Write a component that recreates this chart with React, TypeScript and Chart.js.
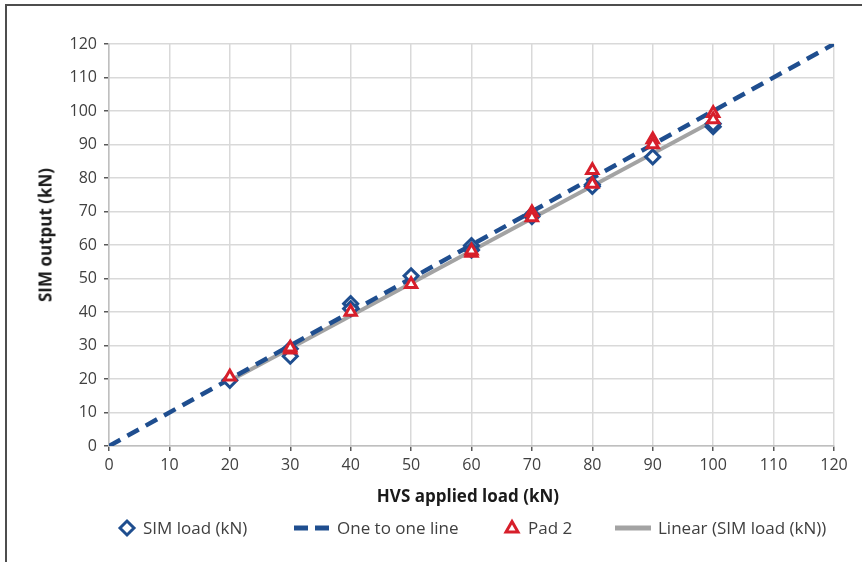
import React, { useEffect, useRef } from 'react';
import { Chart, registerables } from 'chart.js';

Chart.register(...registerables);

// SIM load readings (kN) against the HVS applied load (kN)
const simX = [20, 30, 30, 40, 40, 50, 60, 60, 70, 70, 80, 80, 90, 100, 100];
const simY = [19.6, 29, 26.8, 42.5, 41, 50.8, 59.8, 58.5, 69, 68.5, 78, 77.5, 86.3, 95.3, 96.2];

// Pad 2 readings (kN)
const padX = [20, 30, 30, 40, 50, 60, 60, 70, 70, 80, 80, 90, 90, 100, 100];
const padY = [20.7, 28.7, 29.3, 40, 48.3, 57.6, 58.3, 69.7, 68.2, 82.3, 78.2, 91.5, 90, 99.3, 97.5];

// One to one reference line
const oneX = [0, 120];
const oneY = [0, 120];

// Linear trend of the SIM load
const trendX = [20, 100];
const trendY = [19.5, 97];

const axisMin = 0;
const axisMax = 120;
const axisStep = 10;

const BLUE = '#1f4e8f';
const RED = '#d71f2b';
const GREY = '#a3a3a3';
const TEXT = '#404040';
const FONT = '"Open Sans", "Noto Sans", sans-serif';

const toPoints = (xs: number[], ys: number[]) => xs.map((x, i) => ({ x, y: ys[i] }));

export default function App() {
  const canvasRef = useRef<HTMLCanvasElement | null>(null);

  useEffect(() => {
    const canvas = canvasRef.current;
    if (!canvas) return;
    const tickFont = { family: FONT, size: 16 };
    const scaleCommon = {
      type: 'linear' as const,
      min: axisMin,
      max: axisMax,
      grid: {
        color: '#d9d9d9',
        lineWidth: 1.5,
        tickColor: '#595959',
        tickLength: 5,
        tickWidth: 1.5,
      },
      border: { color: '#bfbfbf', width: 1.5 },
    };
    const chart = new Chart(canvas, {
      type: 'scatter',
      data: {
        datasets: [
          {
            label: 'Pad 2',
            data: toPoints(padX, padY),
            order: 0,
            pointStyle: 'triangle',
            pointRadius: 6.5,
            pointBorderWidth: 3,
            pointBorderColor: RED,
            pointBackgroundColor: '#ffffff',
            showLine: false,
          },
          {
            label: 'SIM load (kN)',
            data: toPoints(simX, simY),
            order: 1,
            pointStyle: 'rectRot',
            pointRadius: 7,
            pointBorderWidth: 3,
            pointBorderColor: BLUE,
            pointBackgroundColor: '#ffffff',
            showLine: false,
          },
          {
            label: 'One to one line',
            data: toPoints(oneX, oneY),
            order: 2,
            showLine: true,
            borderColor: BLUE,
            borderWidth: 4.5,
            borderDash: [13, 8],
            borderCapStyle: 'butt',
            pointRadius: 0,
          },
          {
            label: 'Linear (SIM load (kN))',
            data: toPoints(trendX, trendY),
            order: 3,
            showLine: true,
            borderColor: GREY,
            borderWidth: 4,
            pointRadius: 0,
          },
        ],
      },
      options: {
        responsive: false,
        animation: false,
        events: [],
        layout: { padding: { top: 44, right: 28, left: 0, bottom: 0 } },
        plugins: { legend: { display: false }, tooltip: { enabled: false } },
        scales: {
          x: {
            ...scaleCommon,
            ticks: { stepSize: axisStep, color: TEXT, font: tickFont, padding: 5, maxRotation: 0 },
            afterFit: (s: any) => {
              s.height = 116;
            },
          },
          y: {
            ...scaleCommon,
            ticks: { stepSize: axisStep, color: TEXT, font: tickFont, padding: 7 },
            afterFit: (s: any) => {
              s.width = 109;
            },
          },
        },
      } as any,
    });
    return () => chart.destroy();
  }, []);

  const legendText: React.CSSProperties = {
    position: 'absolute',
    top: 517,
    fontFamily: FONT,
    fontSize: 17,
    lineHeight: '22px',
    color: TEXT,
    whiteSpace: 'nowrap',
  };

  return (
    <div
      style={{
        position: 'fixed',
        left: 0,
        top: 0,
        width: 862,
        height: 562,
        overflow: 'hidden',
        background: '#ffffff',
      }}
    >
      <div
        style={{
          position: 'absolute',
          left: 5,
          top: 4,
          width: 900,
          height: 600,
          borderLeft: '2px solid #4d4d4d',
          borderTop: '2px solid #4d4d4d',
        }}
      />
      <canvas
        ref={canvasRef}
        width={862}
        height={562}
        style={{ position: 'absolute', left: 0, top: 0, width: 862, height: 562 }}
      />
      <div
        style={{
          position: 'absolute',
          left: 45,
          top: 235,
          transform: 'translate(-50%, -50%) rotate(-90deg)',
          fontFamily: FONT,
          fontWeight: 700,
          fontSize: 17,
          color: '#1a1a1a',
          whiteSpace: 'nowrap',
        }}
      >
        SIM output (kN)
      </div>
      <div
        style={{
          position: 'absolute',
          left: 468,
          top: 495,
          transform: 'translate(-50%, -50%)',
          fontFamily: FONT,
          fontWeight: 700,
          fontSize: 17,
          color: '#1a1a1a',
          whiteSpace: 'nowrap',
        }}
      >
        HVS applied load (kN)
      </div>

      {/* legend */}
      <svg
        width={862}
        height={40}
        style={{ position: 'absolute', left: 0, top: 508 }}
      >
        <polygon
          points="120,20 127,13 134,20 127,27"
          fill="#ffffff"
          stroke={BLUE}
          strokeWidth={3}
        />
        <line x1={294} y1={20} x2={308} y2={20} stroke={BLUE} strokeWidth={5} />
        <line x1={315} y1={20} x2={329} y2={20} stroke={BLUE} strokeWidth={5} />
        <polygon
          points="512,13.5 518,24 506,24"
          fill="#ffffff"
          stroke={RED}
          strokeWidth={3}
        />
        <line x1={615} y1={20} x2={651} y2={20} stroke={GREY} strokeWidth={5} />
      </svg>
      <div style={{ ...legendText, left: 143 }}>SIM load (kN)</div>
      <div style={{ ...legendText, left: 337 }}>One to one line</div>
      <div style={{ ...legendText, left: 528 }}>Pad 2</div>
      <div style={{ ...legendText, left: 658 }}>Linear (SIM load (kN))</div>
    </div>
  );
}
